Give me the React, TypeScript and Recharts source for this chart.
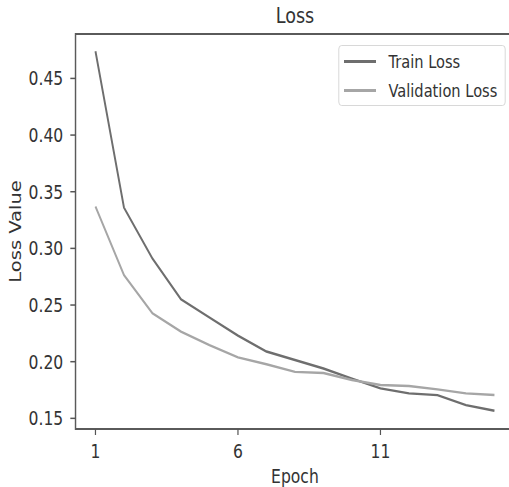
import React from 'react';
import { LineChart, Line, XAxis, YAxis, ReferenceArea, Legend } from 'recharts';

const epochs = [1, 2, 3, 4, 5, 6, 7, 8, 9, 10, 11, 12, 13, 14, 15];
const trainLoss = [0.474, 0.336, 0.291, 0.255, 0.239, 0.223, 0.209, 0.2015, 0.194, 0.185, 0.1765, 0.172, 0.1705, 0.1617, 0.1567];
const valLoss = [0.337, 0.2765, 0.2427, 0.2265, 0.2147, 0.2038, 0.1977, 0.191, 0.19, 0.1838, 0.1794, 0.1785, 0.1756, 0.172, 0.1706];
const xTicks = [1, 6, 11];
const yTicks = [0.15, 0.2, 0.25, 0.3, 0.35, 0.4, 0.45];

const data = epochs.map((e, i) => ({ epoch: e, train: trainLoss[i], val: valLoss[i] }));

const X_DOMAIN: [number, number] = [0.3, 15.7];
const Y_DOMAIN: [number, number] = [0.1406, 0.4892];
const SQUISH = 0.8; // picture is horizontally compressed
const FONT = '"DejaVu Sans", sans-serif';
const TEXT = '#333';

const LegendBox = () => (
    <div
        style={{
            width: 209,
            height: 61,
            border: '1px solid #d4d4d4',
            borderRadius: 4,
            background: 'rgba(255,255,255,0.85)',
            fontFamily: FONT,
            fontSize: 18.3,
            color: TEXT,
            boxSizing: 'border-box',
            paddingTop: 1,
        }}
    >
        {[
            { name: 'Train Loss', color: '#6e6e6e' },
            { name: 'Validation Loss', color: '#a6a6a6' },
        ].map((it) => (
            <div key={it.name} style={{ display: 'flex', alignItems: 'center', height: 29, whiteSpace: 'nowrap' }}>
                <div style={{ width: 40, height: 3, background: it.color, marginLeft: 6, marginRight: 16, flexShrink: 0 }} />
                <span>{it.name}</span>
            </div>
        ))}
    </div>
);

export default function App() {
    return (
        <div style={{ position: 'absolute', left: 0, top: 0, width: 509, height: 487, overflow: 'hidden', background: '#fff' }}>
            <div style={{ position: 'relative', width: 660, height: 487, transform: `scaleX(${SQUISH})`, transformOrigin: '0 0' }}>
                <div
                    style={{
                        position: 'absolute',
                        left: 94.4,
                        width: 548.6,
                        top: 5,
                        textAlign: 'center',
                        fontFamily: FONT,
                        fontSize: 22,
                        lineHeight: '22px',
                        color: TEXT,
                    }}
                >
                    Loss
                </div>
                <LineChart width={660} height={487} data={data} margin={{ top: 34, right: 17, bottom: 0, left: 0 }}>
                    <XAxis
                        dataKey="epoch"
                        type="number"
                        domain={X_DOMAIN}
                        ticks={xTicks}
                        height={58}
                        axisLine={false}
                        tickLine={{ stroke: '#555', strokeWidth: 1.5 }}
                        tickSize={6}
                        tickMargin={9}
                        tick={{ fill: TEXT, fontSize: 19.5, fontFamily: FONT }}
                        label={{ value: 'Epoch', position: 'insideBottom', offset: 4, fill: TEXT, fontSize: 19.5, fontFamily: FONT }}
                    />
                    <YAxis
                        type="number"
                        domain={Y_DOMAIN}
                        ticks={yTicks}
                        width={94.4}
                        axisLine={false}
                        tickLine={{ stroke: '#555', strokeWidth: 1.5 }}
                        tickSize={6.5}
                        tickMargin={8.8}
                        tickFormatter={(v: number) => v.toFixed(2)}
                        tick={{ fill: TEXT, fontSize: 19.5, fontFamily: FONT }}
                        label={{
                            value: 'Loss Value',
                            angle: -90,
                            position: 'insideLeft',
                            offset: 19,
                            fill: TEXT,
                            fontSize: 19.5,
                            fontFamily: FONT,
                            style: { textAnchor: 'middle' },
                        }}
                    />
                    <ReferenceArea
                        x1={X_DOMAIN[0]}
                        x2={X_DOMAIN[1]}
                        y1={Y_DOMAIN[0]}
                        y2={Y_DOMAIN[1]}
                        fill="none"
                        stroke="#5a5a5a"
                        strokeWidth={1.8}
                        fillOpacity={0}
                    />
                    <Line dataKey="train" stroke="#6e6e6e" strokeWidth={2.4} dot={false} isAnimationActive={false} />
                    <Line dataKey="val" stroke="#a6a6a6" strokeWidth={2.4} dot={false} isAnimationActive={false} />
                    <Legend
                        layout="vertical"
                        align="center"
                        verticalAlign="middle"
                        content={<LegendBox />}
                        wrapperStyle={{ top: 45, left: 422.5, width: 209 }}
                    />
                </LineChart>
            </div>
        </div>
    );
}
